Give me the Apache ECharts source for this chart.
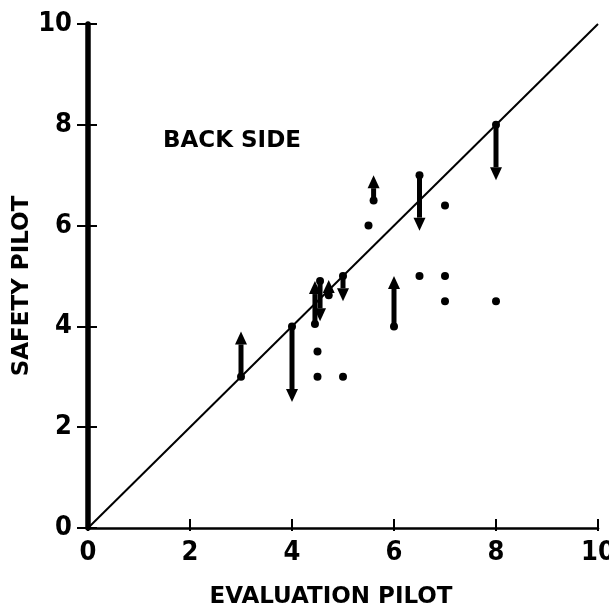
<!DOCTYPE html>
<html><head><meta charset="utf-8">
<script src="https://cdn.jsdelivr.net/npm/echarts@6/dist/echarts.min.js"></script>
<style>html,body{margin:0;padding:0;background:#fff}#c{width:609px;height:616px}</style>
</head><body><div id="c"></div>
<script>
var xTicks = [0, 2, 4, 6, 8, 10];
var yTicks = [0, 2, 4, 6, 8, 10];
var xName = 'EVALUATION PILOT';
var yName = 'SAFETY PILOT';
var note = 'BACK SIDE';
// vertical arrows: evaluation pilot rating, safety pilot rating from -> to
var arrowX    = [3,   4,   4.45, 4.55, 4.72, 5,   5.6, 6,   6.5, 8];
var arrowFrom = [3,   4,   4.05, 4.9,  4.62, 5,   6.5, 4,   7,   8];
var arrowTo   = [3.9, 2.5, 4.9,  4.1,  4.92, 4.5, 7,   5,   5.9, 6.9];
// single points
var dotX = [4.5, 4.5, 5, 5.5, 7,   6.5, 7, 7,   8];
var dotY = [3.5, 3,   3, 6,   6.4, 5,   5, 4.5, 4.5];
// line of agreement
var lineX = [0, 10];
var lineY = [0, 10];

var arrowData = arrowX.map(function (x, i) { return [x, arrowFrom[i], arrowTo[i]]; });
var dotData = dotX.map(function (x, i) { return [x, dotY[i]]; });
var lineData = lineX.map(function (x, i) { return [x, lineY[i]]; });

var font = 'DejaVu Sans';
var tickFont = '"Liberation Sans Narrow", "DejaVu Sans Condensed", "DejaVu Sans"';
var chart = echarts.init(document.getElementById('c'));
var axisCommon = {
  type: 'value', min: 0, max: 10, interval: 2,
  splitLine: { show: false }
};
chart.setOption({
  animation: false,
  backgroundColor: '#fff',
  grid: { left: 88, right: 11, top: 24, bottom: 88, containLabel: false, outerBoundsMode: 'none' },
  xAxis: [
    Object.assign({}, axisCommon, {
      axisLine: { lineStyle: { color: '#000', width: 2.5 } },
      axisTick: { inside: false, length: 3, lineStyle: { color: '#000', width: 2 } },
      axisLabel: { margin: 11, fontFamily: tickFont, fontWeight: 'bold', fontSize: 27, color: '#000',
        formatter: function (v) { return xTicks.indexOf(v) >= 0 ? String(v) : ''; } }
    }),
    Object.assign({}, axisCommon, {
      position: 'bottom',
      axisLine: { show: false },
      axisTick: { inside: true, length: 9, lineStyle: { color: '#000', width: 2 } },
      axisLabel: { show: false }
    })
  ],
  yAxis: [
    Object.assign({}, axisCommon, {
      axisLine: { lineStyle: { color: '#000', width: 5.5 } },
      axisTick: { inside: false, length: 11, lineStyle: { color: '#000', width: 2 } },
      axisLabel: { margin: 16, fontFamily: tickFont, fontWeight: 'bold', fontSize: 27, color: '#000',
        formatter: function (v) { return yTicks.indexOf(v) >= 0 ? String(v) : ''; } }
    }),
    Object.assign({}, axisCommon, {
      position: 'left',
      axisLine: { show: false },
      axisTick: { inside: true, length: 9, lineStyle: { color: '#000', width: 2 } },
      axisLabel: { show: false }
    })
  ],
  graphic: [
    { type: 'text', x: 163, y: 141,
      style: { text: note, fontFamily: font, fontWeight: 'bold', fontSize: 23, fill: '#000', verticalAlign: 'middle' } },
    { type: 'text', x: 331, y: 597,
      style: { text: xName, fontFamily: font, fontWeight: 'bold', fontSize: 23, fill: '#000', align: 'center', verticalAlign: 'middle' } },
    { type: 'text', x: 22, y: 286, rotation: Math.PI / 2,
      style: { text: yName, fontFamily: font, fontWeight: 'bold', fontSize: 23, fill: '#000', align: 'center', verticalAlign: 'middle' } }
  ],
  series: [
    {
      type: 'line', data: lineData, showSymbol: false, symbol: 'none',
      lineStyle: { color: '#000', width: 2 }, z: 2
    },
    {
      type: 'scatter', data: dotData, symbolSize: 8,
      itemStyle: { color: '#000', opacity: 1 }, z: 3
    },
    {
      type: 'custom', data: arrowData, encode: { x: 0, y: [1, 2] }, z: 4,
      renderItem: function (params, api) {
        var x = api.value(0), y0 = api.value(1), y1 = api.value(2);
        var p0 = api.coord([x, y0]), p1 = api.coord([x, y1]);
        var dir = p1[1] < p0[1] ? -1 : 1;
        var headLen = 13, headW = 6;
        var base = p1[1] - dir * headLen;
        return {
          type: 'group', children: [
            { type: 'line', shape: { x1: p0[0], y1: p0[1], x2: p0[0], y2: base },
              style: { stroke: '#000', lineWidth: 5 } },
            { type: 'circle', shape: { cx: p0[0], cy: p0[1], r: 4 }, style: { fill: '#000' } },
            { type: 'polygon', shape: { points: [[p1[0] - headW, base], [p1[0] + headW, base], [p1[0], p1[1]]] },
              style: { fill: '#000' } }
          ]
        };
      }
    }
  ]
});
</script></body></html>
